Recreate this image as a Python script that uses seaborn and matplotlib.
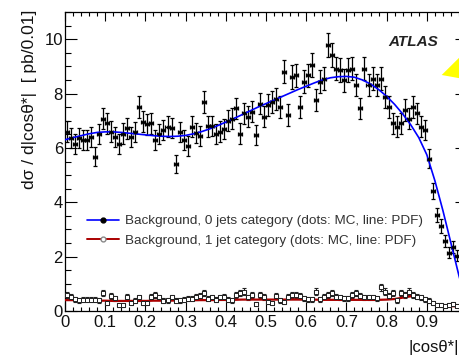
import numpy as np
import pandas as pd
import matplotlib
matplotlib.use("Agg")
import matplotlib.pyplot as plt
import seaborn as sns
from matplotlib.lines import Line2D
from matplotlib.patches import Polygon
from matplotlib.ticker import MultipleLocator, FixedLocator, FixedFormatter

# ---------------- data ----------------
bin_width = 0.01
n_bins = 98
bin_centers = np.round(np.arange(n_bins) * bin_width + bin_width / 2, 3)

mc_0jet = [6.60, 6.35, 6.15, 6.35, 6.30, 6.30, 6.40, 5.67, 6.50, 7.08,
           6.90, 6.60, 6.41, 6.15, 6.53, 6.72, 6.41, 6.59, 7.50, 6.96,
           6.87, 6.90, 6.29, 6.51, 6.65, 6.78, 6.74, 5.40, 6.59, 6.30,
           6.07, 6.78, 6.55, 6.45, 7.70, 6.79, 6.80, 6.50, 6.60, 6.70,
           7.00, 7.08, 7.45, 6.53, 7.27, 7.14, 7.33, 6.47, 7.63, 7.14,
           7.57, 7.70, 7.80, 7.51, 8.80, 7.21, 8.61, 8.67, 7.51, 8.43,
           8.67, 9.04, 7.76, 8.43, 8.55, 9.78, 9.41, 8.92, 8.86, 8.49,
           8.86, 8.92, 8.31, 7.45, 8.92, 8.31, 8.55, 8.31, 8.55, 7.88,
           7.51, 6.90, 6.78, 6.90, 7.39, 7.08, 7.51, 7.27, 6.78, 6.65,
           5.60, 4.42, 3.53, 3.13, 2.58, 2.15, 2.35, 2.03]

mc_1jet = [0.59, 0.53, 0.43, 0.40, 0.42, 0.42, 0.42, 0.42, 0.40, 0.67,
           0.28, 0.55, 0.47, 0.22, 0.22, 0.53, 0.31, 0.38, 0.50, 0.31,
           0.28, 0.53, 0.59, 0.50, 0.38, 0.40, 0.50, 0.38, 0.40, 0.42,
           0.45, 0.45, 0.52, 0.55, 0.65, 0.45, 0.50, 0.42, 0.50, 0.52,
           0.42, 0.40, 0.59, 0.65, 0.71, 0.50, 0.60, 0.26,
           0.59, 0.52, 0.34, 0.28, 0.55, 0.40, 0.34, 0.53, 0.59, 0.59,
           0.55, 0.47, 0.43, 0.43, 0.71, 0.43, 0.53, 0.59, 0.67, 0.53,
           0.50, 0.47, 0.47, 0.59, 0.65, 0.55, 0.50, 0.50, 0.50, 0.47,
           0.87, 0.71, 0.55, 0.65, 0.40, 0.65, 0.59, 0.71, 0.59, 0.53,
           0.50, 0.43, 0.38, 0.28, 0.22, 0.22, 0.18, 0.22, 0.26, 0.20]

pdf_x = [0.00, 0.02, 0.04, 0.06, 0.08, 0.10, 0.12, 0.14, 0.16, 0.18,
         0.20, 0.22, 0.24, 0.26, 0.28, 0.30, 0.32, 0.34, 0.36, 0.38,
         0.40, 0.42, 0.44, 0.46, 0.48, 0.50, 0.52, 0.54, 0.56, 0.58,
         0.60, 0.62, 0.64, 0.66, 0.68, 0.70, 0.72, 0.74, 0.76, 0.78,
         0.80, 0.82, 0.84, 0.86, 0.88, 0.90, 0.92, 0.94, 0.96, 0.98, 1.00]

pdf_0jet = [6.30, 6.38, 6.45, 6.52, 6.57, 6.59, 6.59, 6.57, 6.54, 6.51,
            6.48, 6.45, 6.43, 6.42, 6.43, 6.46, 6.52, 6.60, 6.70, 6.82,
            6.95, 7.08, 7.22, 7.36, 7.50, 7.63, 7.76, 7.89, 8.02, 8.15,
            8.27, 8.39, 8.50, 8.58, 8.62, 8.63, 8.60, 8.50, 8.35, 8.15,
            7.90, 7.60, 7.25, 6.85, 6.38, 5.75, 4.80, 3.70, 2.50, 1.30, 0.20]

pdf_1jet = [0.40, 0.40, 0.39, 0.39, 0.38, 0.38, 0.37, 0.37, 0.37, 0.37,
            0.37, 0.38, 0.38, 0.38, 0.39, 0.39, 0.40, 0.40, 0.40, 0.41,
            0.41, 0.41, 0.42, 0.42, 0.42, 0.42, 0.42, 0.42, 0.42, 0.42,
            0.42, 0.42, 0.41, 0.41, 0.41, 0.41, 0.41, 0.41, 0.41, 0.41,
            0.42, 0.44, 0.49, 0.54, 0.52, 0.40, 0.26, 0.20, 0.18, 0.17, 0.16]

x_ticks = [0.0, 0.1, 0.2, 0.3, 0.4, 0.5, 0.6, 0.7, 0.8, 0.9, 1.0]
x_ticklabels = ["0", "0.1", "0.2", "0.3", "0.4", "0.5", "0.6", "0.7", "0.8", "0.9", ""]
y_ticks = [0, 2, 4, 6, 8, 10]

legend_labels = ["Background, 0 jets category (dots: MC, line: PDF)",
                 "Background, 1 jet category (dots: MC, line: PDF)"]

# ---------------- style ----------------
sns.set_style("ticks")
plt.rcParams["font.family"] = ["Liberation Sans", "DejaVu Sans"]

W, H = 460, 360
fig = plt.figure(figsize=(W / 100, H / 100), dpi=100)
ax_left, ax_right, ax_top, ax_bottom = 65, 467, 12, 311
ax = fig.add_axes([ax_left / W, 1 - ax_bottom / H,
                   (ax_right - ax_left) / W, (ax_bottom - ax_top) / H])

df0 = pd.DataFrame({"cos": bin_centers, "val": mc_0jet})
df1 = pd.DataFrame({"cos": bin_centers, "val": mc_1jet})
dfp = pd.DataFrame({"cos": pdf_x, "p0": pdf_0jet, "p1": pdf_1jet})

err0 = 0.145 * np.sqrt(np.array(mc_0jet))
err1 = 0.14 * np.sqrt(np.array(mc_1jet))

# error bars
ax.errorbar(df0["cos"], df0["val"], xerr=bin_width / 2, yerr=err0, fmt="none",
            ecolor="black", elinewidth=0.9, capsize=1.6, capthick=0.9, zorder=2)
ax.errorbar(df1["cos"], df1["val"], xerr=bin_width / 2, yerr=err1, fmt="none",
            ecolor="#222222", elinewidth=0.8, capsize=1.4, capthick=0.8, zorder=2)

# PDF lines
sns.lineplot(data=dfp, x="cos", y="p0", ax=ax, color="#0000ff", lw=1.2,
             zorder=4, legend=False)
sns.lineplot(data=dfp, x="cos", y="p1", ax=ax, color="#aa0000", lw=1.6,
             zorder=3, legend=False)

# MC points
sns.scatterplot(data=df0, x="cos", y="val", ax=ax, color="black", s=6,
                marker="o", edgecolor="black", linewidth=0.3, zorder=5, legend=False)
sns.scatterplot(data=df1, x="cos", y="val", ax=ax, color="white", s=6,
                marker="s", edgecolor="#222222", linewidth=0.7, zorder=5, legend=False)

# axes
ax.set_xlim(0, 1.0)
ax.set_ylim(0, 11)
ax.xaxis.set_major_locator(FixedLocator(x_ticks))
ax.xaxis.set_major_formatter(FixedFormatter(x_ticklabels))
ax.xaxis.set_minor_locator(MultipleLocator(0.02))
ax.yaxis.set_major_locator(FixedLocator(y_ticks))
ax.yaxis.set_minor_locator(MultipleLocator(0.5))

ax.tick_params(axis="both", which="both", direction="in", top=True, right=True,
               width=0.8, colors="black", labelcolor="#111111")
ax.tick_params(axis="x", which="major", length=6.5, pad=3, labelsize=12)
ax.tick_params(axis="x", which="minor", length=3.2)
ax.tick_params(axis="y", which="major", length=8.6, pad=1.5, labelsize=12)
ax.tick_params(axis="y", which="minor", length=4.3)
for sp in ax.spines.values():
    sp.set_linewidth(0.9)
    sp.set_color("black")

ax.set_xlabel("|cosθ*|", loc="right", fontsize=12, color="#111111")
ax.xaxis.set_label_coords((459 - ax_left) / (ax_right - ax_left),
                          (ax_bottom - 340) / (ax_bottom - ax_top))
ax.set_ylabel("dσ / d|cosθ*|  [ pb/0.01]", loc="top", fontsize=12.5, color="#111111")
ax.yaxis.set_label_coords((37 - ax_left) / (ax_right - ax_left),
                          (ax_bottom - 10) / (ax_bottom - ax_top))

# legend
handles = [
    Line2D([], [], color="#0000ff", lw=1.2, marker="o", ms=3.5,
           mfc="black", mec="black"),
    Line2D([], [], color="#aa0000", lw=1.4, marker="o", ms=3.5,
           mfc="white", mec="#888888"),
]
ax.legend(handles, legend_labels, loc="upper left",
          bbox_to_anchor=((87 - ax_left) / (ax_right - ax_left),
                          (ax_bottom - 215) / (ax_bottom - ax_top)),
          frameon=False, fontsize=9.7, handlelength=2.4, handletextpad=0.45,
          labelspacing=0.5, borderpad=0, borderaxespad=0, labelcolor="#333333")

# ATLAS label
fig.text(413 / W, 1 - 42 / H, "ATLAS", fontsize=11, fontweight="bold",
         fontstyle="italic", ha="center", va="center", color="#222222")

# yellow arrow tip at right edge
tri = Polygon([(441.7 / W, 1 - 75 / H), (472 / W, 1 - 45 / H), (472 / W, 1 - 80.5 / H)],
              closed=True, facecolor="#ffff00", edgecolor="none",
              transform=fig.transFigure, zorder=10)
fig.add_artist(tri)

fig.savefig("out.png", dpi=100)
